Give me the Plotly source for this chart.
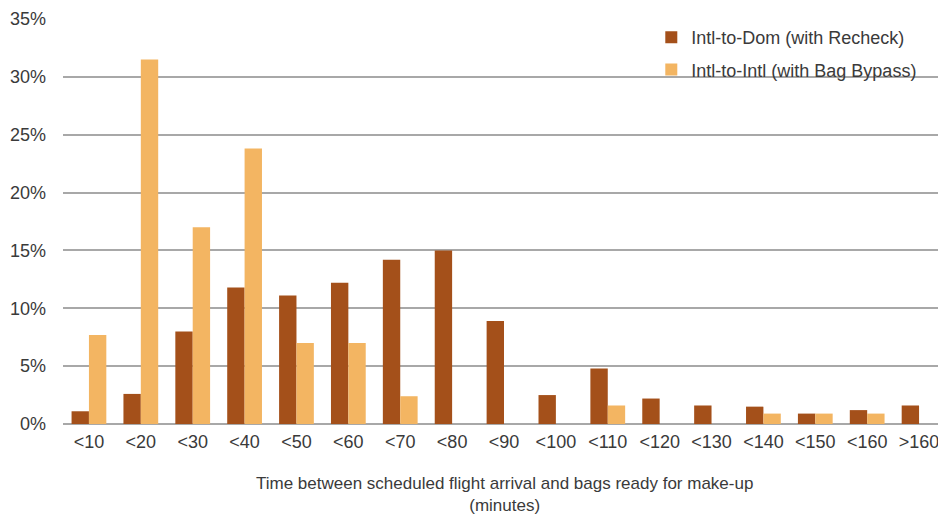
import plotly.graph_objects as go

categories = ["<10", "<20", "<30", "<40", "<50", "<60", "<70", "<80", "<90",
              "<100", "<110", "<120", "<130", "<140", "<150", "<160", ">160"]
intl_to_dom = [1.1, 2.6, 8.0, 11.8, 11.1, 12.2, 14.2, 15.0, 8.9,
               2.5, 4.8, 2.2, 1.6, 1.5, 0.9, 1.2, 1.6]
intl_to_intl = [7.7, 31.5, 17.0, 23.8, 7.0, 7.0, 2.4, 0, 0,
                0, 1.6, 0, 0, 0.9, 0.9, 0.9, 0]

dom_color = "#A4501A"
intl_color = "#F3B562"
text_color = "#3a3a3a"
font_family = "Liberation Sans, Arial, sans-serif"

fig = go.Figure()
fig.add_trace(go.Bar(
    x=categories, y=intl_to_dom, name="Intl-to-Dom (with Recheck)",
    marker=dict(color=dom_color, line=dict(width=0)), legendgroup="a",
))
fig.add_trace(go.Bar(
    x=categories, y=intl_to_intl, name="Intl-to-Intl (with Bag Bypass)",
    marker=dict(color=intl_color, line=dict(width=0)), legendgroup="b",
))

# x axis title as one annotation, placed by hand under the tick labels
fig.add_annotation(text="Time between scheduled flight arrival and bags ready for make-up<br>(minutes)",
                   xref="paper", yref="paper", x=0.5, y=0, yanchor="middle",
                   yshift=-70, showarrow=False, font=dict(size=17, color=text_color))

fig.update_layout(
    width=946, height=516,
    margin=dict(l=55, r=9, t=11, b=100),
    paper_bgcolor="white", plot_bgcolor="white",
    barmode="group", bargap=0.33, bargroupgap=0,
    font=dict(family=font_family, size=18, color=text_color),
    showlegend=True,
    legend=dict(
        x=0.667, y=1.0, xanchor="left", yanchor="top",
        bgcolor="rgba(255,255,255,0)", font=dict(size=18, color=text_color),
        tracegroupgap=6, itemwidth=30,
    ),
    xaxis=dict(
        showgrid=False, showline=False, ticks="", automargin=False,
        tickfont=dict(size=18), ticklabelstandoff=5,
    ),
    yaxis=dict(
        range=[0, 35], dtick=5, ticksuffix="%", automargin=False,
        showgrid=True, gridcolor="#A8A8A8", gridwidth=1.5,
        zeroline=True, zerolinecolor="#A8A8A8", zerolinewidth=1.5,
        tickfont=dict(size=18), ticks="", ticklabelstandoff=16,
    ),
)

fig.write_html("out.html")
